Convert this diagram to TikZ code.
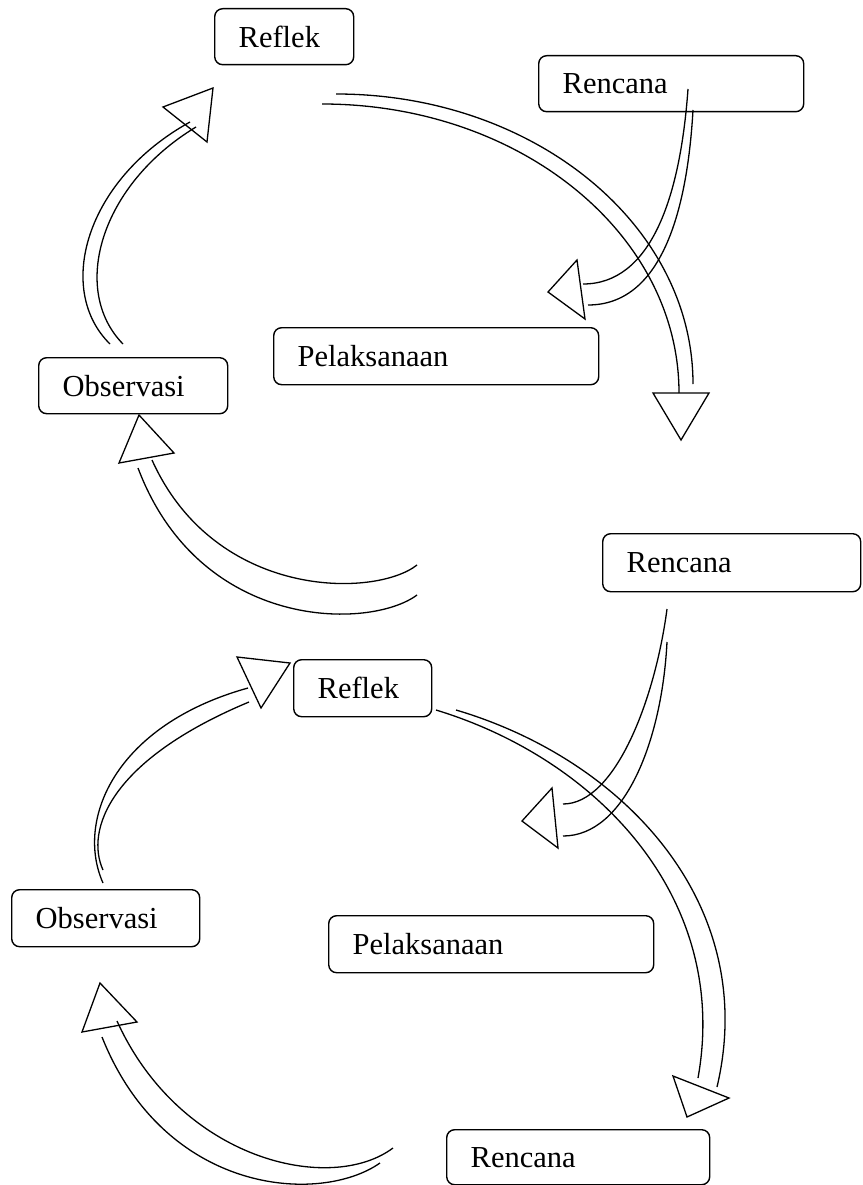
\documentclass[tikz,border=0pt]{standalone}
\usepackage{fontspec}
\setmainfont{Liberation Serif}

\begin{document}
\begin{tikzpicture}[
		x=1pt, y=-1pt,
		every node/.style={draw, rounded corners=8pt, line width=1.4pt, anchor=north west,
			align=left, inner xsep=24pt, inner ysep=0pt, font=\fontsize{30.5}{36}\selectfont},
		garis/.style={line width=1.3pt},
		kepala/.style={line width=1.3pt, line join=miter}
	]
  \useasboundingbox (0,0) rectangle (862,1185);
  % siklus I
  \node (reflek1) [text width=91pt, minimum height=56pt] at (214,8) {Reflek};
  \node (rencana1) [text width=217pt, minimum height=56pt] at (538,55) {Rencana};
  \node (pelaksanaan1) [text width=277pt, minimum height=57pt] at (273,327) {Pelaksanaan};
  \node (observasi1) [text width=141pt, minimum height=56pt] at (38,357) {Observasi};
  \draw[garis] (110,344) .. controls (55,290) and (85,180) .. (190,122);
  \draw[garis] (123,344) .. controls (70,290) and (100,185) .. (196,127);
  \draw[kepala] (163,107) -- (213,88) -- (207,142) -- cycle;
  \draw[garis] (336,94) .. controls (533,94) and (693,224) .. (693,384);
  \draw[garis] (322,104) .. controls (519,104) and (679,233) .. (679,393);
  \draw[kepala] (653,393) -- (709,393) -- (681,440) -- cycle;
  \draw[garis] (688,89) .. controls (680,200) and (650,284) .. (583,284);
  \draw[garis] (693,110) .. controls (687,215) and (660,305) .. (588,305);
  \draw[kepala] (577,260) -- (548,292) -- (585,319) -- cycle;
  \draw[garis] (417,565) .. controls (375,598) and (215,600) .. (152,460);
  \draw[garis] (417,595) .. controls (370,630) and (200,632) .. (138,468);
  \draw[kepala] (139,415) -- (174,453) -- (119,463) -- cycle;
  % siklus II
  \node (rencana2) [text width=210pt, minimum height=58pt] at (602,533) {Rencana};
  \node (reflek2) [text width=90pt, minimum height=57pt] at (293,659) {Reflek};
  \node (observasi2) [text width=140pt, minimum height=57pt] at (11,889) {Observasi};
  \node (pelaksanaan2) [text width=277pt, minimum height=57pt] at (328,915) {Pelaksanaan};
  \node (rencana3) [text width=215pt, minimum height=55pt] at (446,1129) {Rencana};
  \draw[garis] (103,883) .. controls (75,820) and (115,725) .. (248,688);
  \draw[garis] (103,870) .. controls (85,830) and (110,760) .. (249,702);
  \draw[kepala] (237,657) -- (290,663) -- (261,708) -- cycle;
  \draw[garis] (667,609) .. controls (655,700) and (615,804) .. (563,804);
  \draw[garis] (667,642) .. controls (662,740) and (625,836) .. (563,836);
  \draw[kepala] (552,788) -- (522,821) -- (558,848) -- cycle;
  \draw[garis] (436,710) .. controls (600,760) and (730,900) .. (698,1078);
  \draw[garis] (456,710) .. controls (625,760) and (760,905) .. (717,1087);
  \draw[kepala] (673,1076) -- (729,1098) -- (687,1117) -- cycle;
  \draw[garis] (393,1148) .. controls (330,1195) and (180,1160) .. (117,1021);
  \draw[garis] (380,1163) .. controls (320,1205) and (165,1195) .. (102,1037);
  \draw[kepala] (100,983) -- (137,1022) -- (82,1032) -- cycle;
\end{tikzpicture}
\end{document}
